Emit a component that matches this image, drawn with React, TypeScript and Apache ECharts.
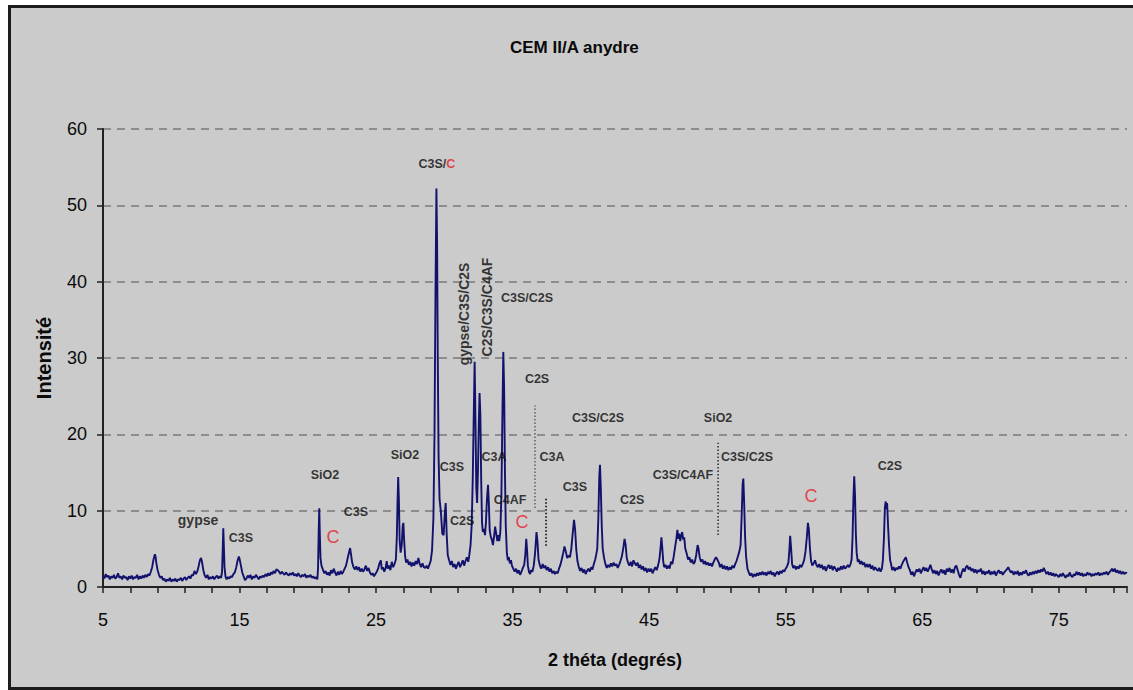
import React, { useEffect, useRef } from "react";
import * as echarts from "echarts";

// Diffractogram of CEM II/A (anhydrous), intensity vs 2θ, read in segments
const scan05to10: [number, number][] = [
  [5.0, 1.5], [5.1, 1.1], [5.2, 1.7], [5.3, 1.3], [5.4, 1.5], [5.5, 1.0], [5.6, 1.4], [5.7, 1.2], [5.8, 1.6], [5.9, 1.1],
  [6.0, 1.3], [6.1, 1.8], [6.2, 1.2], [6.3, 1.4], [6.4, 1.0], [6.5, 1.5], [6.6, 1.2], [6.7, 1.3], [6.8, 0.9], [6.9, 1.4],
  [7.0, 1.1], [7.1, 1.5], [7.2, 1.0], [7.3, 1.3], [7.4, 1.2], [7.5, 1.6], [7.6, 1.0], [7.7, 1.4], [7.8, 1.1], [7.9, 1.5],
  [8.0, 1.2], [8.1, 1.6], [8.2, 1.3], [8.3, 1.7], [8.4, 1.5], [8.5, 2.0], [8.6, 2.6], [8.7, 3.6], [8.8, 4.3], [8.85, 4.0],
  [8.9, 3.2], [9.0, 2.2], [9.1, 1.6], [9.2, 1.2], [9.3, 1.4], [9.4, 0.9], [9.5, 1.1], [9.6, 0.7], [9.7, 1.0], [9.8, 0.8],
  [9.9, 1.2], [10.0, 0.7],
];

const scan10to15: [number, number][] = [
  [10.1, 1.0], [10.2, 0.8], [10.3, 1.1], [10.4, 0.7], [10.5, 1.0], [10.6, 0.9], [10.7, 1.2], [10.8, 0.8], [10.9, 1.1],
  [11.0, 1.3], [11.1, 0.9], [11.2, 1.2], [11.3, 1.4], [11.4, 1.1], [11.5, 1.6], [11.6, 1.5], [11.7, 2.1], [11.8, 1.7],
  [11.9, 2.0], [12.0, 2.7], [12.1, 3.5], [12.18, 3.8], [12.25, 3.3], [12.35, 2.2], [12.45, 1.5], [12.55, 1.2],
  [12.65, 1.6], [12.75, 1.0], [12.85, 1.3], [12.95, 1.1], [13.05, 1.4], [13.15, 1.0], [13.25, 1.3], [13.35, 1.5],
  [13.45, 1.1], [13.55, 1.4], [13.65, 1.2], [13.72, 2.0], [13.77, 5.0], [13.81, 7.7], [13.85, 5.5], [13.9, 2.6],
  [13.97, 1.4], [14.05, 1.0], [14.15, 1.3], [14.25, 1.1], [14.35, 1.4], [14.45, 1.3], [14.55, 1.7], [14.65, 1.9],
  [14.75, 2.5], [14.85, 3.4], [14.95, 4.0], [15.0, 3.7],
];

const scan15to20: [number, number][] = [
  [15.1, 2.8], [15.2, 1.9], [15.3, 1.4], [15.4, 0.9], [15.5, 1.1], [15.6, 1.5], [15.7, 1.2], [15.8, 1.6], [15.9, 1.0],
  [16.0, 1.4], [16.1, 1.2], [16.2, 1.6], [16.3, 1.3], [16.4, 1.0], [16.5, 1.4], [16.6, 1.2], [16.7, 1.5], [16.8, 1.3],
  [16.9, 1.7], [17.0, 1.4], [17.1, 1.8], [17.2, 1.5], [17.3, 1.9], [17.4, 1.7], [17.5, 2.1], [17.6, 1.8], [17.7, 2.3],
  [17.8, 2.2], [17.9, 2.0], [18.0, 1.7], [18.1, 2.0], [18.2, 1.8], [18.3, 1.6], [18.4, 1.9], [18.5, 1.7], [18.6, 1.5],
  [18.7, 1.8], [18.8, 1.6], [18.9, 1.9], [19.0, 1.5], [19.1, 1.7], [19.2, 1.4], [19.3, 1.8], [19.4, 1.5], [19.5, 1.3],
  [19.6, 1.6], [19.7, 1.4], [19.8, 1.7], [19.9, 1.2], [20.0, 1.5],
];

const scan20to25: [number, number][] = [
  [20.1, 1.3], [20.2, 1.6], [20.3, 1.2], [20.4, 1.4], [20.5, 1.1], [20.6, 1.3], [20.7, 1.0], [20.75, 2.5], [20.8, 7.5],
  [20.84, 10.3], [20.88, 7.0], [20.93, 3.8], [21.0, 2.8], [21.1, 2.3], [21.2, 1.8], [21.3, 2.1], [21.4, 1.6], [21.5, 1.9],
  [21.6, 1.5], [21.7, 2.2], [21.8, 1.8], [21.9, 2.4], [22.0, 1.9], [22.1, 1.5], [22.2, 2.0], [22.3, 1.6], [22.4, 2.1],
  [22.5, 1.7], [22.6, 2.0], [22.7, 2.4], [22.8, 2.8], [22.9, 3.6], [23.0, 4.4], [23.1, 5.1], [23.17, 4.2], [23.25, 3.2],
  [23.35, 2.6], [23.45, 2.3], [23.55, 2.7], [23.65, 2.2], [23.75, 2.6], [23.85, 2.0], [23.95, 2.4], [24.05, 2.0],
  [24.15, 2.3], [24.25, 2.8], [24.35, 2.1], [24.45, 2.5], [24.55, 1.9], [24.65, 1.6], [24.75, 1.8], [24.85, 1.4],
  [24.95, 1.7],
];

const scan25to30: [number, number][] = [
  [25.05, 2.0], [25.15, 2.4], [25.25, 3.1], [25.35, 3.5], [25.42, 2.3], [25.5, 2.6], [25.6, 2.0], [25.7, 2.5],
  [25.78, 3.4], [25.85, 2.4], [25.95, 2.8], [26.05, 2.2], [26.15, 3.3], [26.25, 2.6], [26.35, 3.0], [26.45, 3.6],
  [26.52, 6.5], [26.57, 11.0], [26.62, 14.4], [26.67, 11.5], [26.73, 6.0], [26.8, 4.5], [26.88, 5.5], [26.95, 8.0],
  [27.0, 8.4], [27.06, 6.0], [27.13, 4.0], [27.2, 3.2], [27.3, 3.6], [27.4, 2.9], [27.5, 3.3], [27.6, 2.7], [27.7, 3.2],
  [27.8, 2.8], [27.9, 3.4], [28.0, 3.0], [28.1, 3.8], [28.2, 3.0], [28.3, 2.6], [28.4, 3.1], [28.5, 2.6], [28.6, 2.5],
  [28.7, 2.8], [28.8, 2.4], [28.9, 2.9], [29.0, 3.4], [29.1, 4.8], [29.2, 9.0], [29.28, 20.0], [29.35, 38.0],
  [29.42, 52.2], [29.47, 45.0], [29.52, 30.0], [29.58, 17.0], [29.65, 11.5], [29.75, 9.8], [29.85, 7.0], [29.95, 6.8],
  [30.03, 9.5], [30.1, 11.0], [30.17, 7.0], [30.25, 4.2],
];

const scan30to35: [number, number][] = [
  [30.35, 3.5], [30.45, 2.9], [30.55, 3.4], [30.65, 2.6], [30.75, 3.0], [30.85, 2.4], [30.95, 2.9], [31.05, 3.3],
  [31.15, 2.6], [31.25, 3.0], [31.35, 3.5], [31.45, 2.8], [31.55, 3.4], [31.65, 3.9], [31.75, 3.3], [31.83, 4.2],
  [31.92, 5.5], [32.0, 8.0], [32.08, 14.0], [32.15, 22.0], [32.22, 29.5], [32.28, 22.0], [32.34, 13.0], [32.4, 11.0],
  [32.46, 15.0], [32.52, 21.0], [32.58, 25.4], [32.64, 22.5], [32.7, 14.0], [32.76, 8.5], [32.82, 7.2], [32.9, 7.6],
  [32.98, 6.8], [33.05, 8.5], [33.12, 11.5], [33.2, 13.4], [33.26, 11.0], [33.32, 7.5], [33.4, 6.6], [33.48, 6.2],
  [33.56, 5.5], [33.64, 6.6], [33.72, 7.9], [33.8, 7.0], [33.88, 6.0], [33.95, 6.8], [34.02, 6.0], [34.1, 7.2],
  [34.18, 12.0], [34.25, 22.0], [34.32, 30.8], [34.38, 26.0], [34.44, 15.0], [34.5, 8.0], [34.58, 4.5], [34.65, 3.5],
  [34.72, 3.9], [34.8, 3.1], [34.88, 3.5], [34.95, 2.8],
];

const scan35to40: [number, number][] = [
  [35.05, 2.4], [35.15, 2.0], [35.25, 2.4], [35.35, 1.8], [35.45, 2.2], [35.55, 1.6], [35.65, 2.0], [35.75, 2.5],
  [35.85, 2.9], [35.93, 4.2], [36.0, 6.3], [36.06, 4.8], [36.12, 2.8], [36.2, 2.0], [36.28, 1.7], [36.36, 2.2],
  [36.45, 2.0], [36.55, 2.8], [36.65, 4.5], [36.75, 7.2], [36.82, 6.0], [36.9, 3.6], [37.0, 2.8], [37.1, 2.4],
  [37.2, 3.0], [37.3, 2.5], [37.4, 2.8], [37.5, 2.2], [37.6, 2.6], [37.7, 2.0], [37.8, 2.4], [37.9, 1.8], [38.0, 2.1],
  [38.1, 1.7], [38.2, 2.0], [38.3, 1.8], [38.4, 2.4], [38.5, 2.9], [38.6, 3.6], [38.7, 4.4], [38.8, 5.3], [38.9, 4.6],
  [39.0, 3.8], [39.1, 4.1], [39.2, 3.9], [39.3, 5.0], [39.4, 7.0], [39.5, 8.8], [39.58, 7.5], [39.66, 5.0],
  [39.75, 3.4], [39.85, 2.6], [39.95, 2.1],
];

const scan40to45: [number, number][] = [
  [40.05, 2.5], [40.15, 1.9], [40.25, 2.3], [40.35, 1.7], [40.45, 2.1], [40.55, 2.4], [40.65, 2.0], [40.75, 2.6],
  [40.85, 2.3], [40.95, 3.0], [41.05, 3.6], [41.12, 4.2], [41.2, 5.0], [41.28, 9.0], [41.35, 14.5], [41.4, 16.0],
  [41.46, 13.0], [41.53, 8.0], [41.6, 5.0], [41.7, 3.8], [41.8, 3.0], [41.9, 2.5], [42.0, 2.9], [42.1, 2.6],
  [42.2, 3.1], [42.3, 2.7], [42.4, 3.2], [42.5, 2.8], [42.6, 3.0], [42.7, 2.5], [42.8, 2.9], [42.9, 3.4], [43.0, 4.0],
  [43.1, 5.0], [43.2, 6.3], [43.28, 5.5], [43.36, 3.8], [43.45, 3.2], [43.55, 2.8], [43.65, 3.3], [43.75, 2.7],
  [43.85, 3.5], [43.95, 3.1], [44.05, 2.8], [44.15, 3.2], [44.25, 2.5], [44.35, 2.9], [44.45, 2.3], [44.55, 2.7],
  [44.65, 2.1], [44.75, 2.5], [44.85, 1.9], [44.95, 2.4],
];

const scan45to50: [number, number][] = [
  [45.05, 2.0], [45.15, 2.4], [45.25, 1.8], [45.35, 2.2], [45.45, 2.6], [45.55, 2.2], [45.65, 2.8], [45.75, 3.6],
  [45.83, 5.0], [45.9, 6.5], [45.96, 5.2], [46.03, 3.4], [46.1, 2.6], [46.2, 2.9], [46.3, 2.4], [46.4, 2.8],
  [46.5, 2.4], [46.6, 3.3], [46.7, 3.0], [46.8, 4.0], [46.9, 5.2], [47.0, 6.4], [47.07, 7.5], [47.13, 6.3],
  [47.2, 7.0], [47.28, 6.0], [47.35, 6.8], [47.42, 7.2], [47.5, 6.2], [47.57, 6.5], [47.65, 5.0], [47.75, 4.4],
  [47.85, 3.6], [47.95, 3.9], [48.05, 3.2], [48.15, 3.6], [48.25, 3.0], [48.35, 3.3], [48.45, 4.2], [48.55, 5.5],
  [48.62, 5.0], [48.7, 3.9], [48.8, 3.3], [48.9, 3.6], [49.0, 3.0], [49.1, 3.4], [49.2, 2.9], [49.3, 3.2], [49.4, 2.8],
  [49.5, 3.1], [49.6, 2.7], [49.7, 3.2], [49.8, 3.6], [49.9, 3.9], [50.0, 3.6],
];

const scan50to55: [number, number][] = [
  [50.1, 3.2], [50.2, 2.6], [50.3, 3.0], [50.4, 2.4], [50.5, 2.8], [50.6, 2.3], [50.7, 2.7], [50.8, 2.2], [50.9, 2.6],
  [51.0, 2.3], [51.1, 2.8], [51.2, 2.5], [51.3, 3.0], [51.4, 3.4], [51.5, 4.0], [51.6, 4.6], [51.7, 5.5], [51.78, 9.5],
  [51.85, 13.5], [51.9, 14.2], [51.96, 11.0], [52.03, 6.5], [52.1, 4.0], [52.2, 2.4], [52.3, 1.9], [52.4, 1.5],
  [52.5, 1.8], [52.6, 1.3], [52.7, 1.7], [52.8, 1.4], [52.9, 1.8], [53.0, 1.5], [53.1, 1.9], [53.2, 1.6], [53.3, 2.0],
  [53.4, 1.6], [53.5, 1.9], [53.6, 1.5], [53.7, 2.0], [53.8, 1.7], [53.9, 2.1], [54.0, 1.6], [54.1, 1.9], [54.2, 1.4],
  [54.3, 1.8], [54.4, 2.0], [54.5, 1.6], [54.6, 2.1], [54.7, 1.8], [54.8, 2.2], [54.9, 2.0], [55.0, 2.4],
];

const scan55to61: [number, number][] = [
  [55.1, 2.7], [55.2, 3.2], [55.27, 4.8], [55.33, 6.7], [55.4, 5.0], [55.47, 3.0], [55.55, 2.5], [55.65, 2.8],
  [55.75, 2.3], [55.85, 2.7], [55.95, 2.4], [56.05, 2.9], [56.15, 2.6], [56.25, 3.0], [56.35, 3.5], [56.45, 4.6],
  [56.55, 6.5], [56.63, 8.4], [56.7, 7.5], [56.78, 5.0], [56.86, 3.4], [56.95, 2.8], [57.05, 3.1], [57.15, 3.5],
  [57.25, 2.9], [57.35, 2.6], [57.45, 3.0], [57.55, 2.5], [57.65, 2.9], [57.75, 2.3], [57.85, 2.7], [57.95, 2.1],
  [58.05, 2.6], [58.15, 2.9], [58.25, 2.4], [58.35, 2.8], [58.45, 2.2], [58.55, 2.7], [58.65, 2.4], [58.75, 2.0],
  [58.85, 2.5], [58.95, 2.2], [59.05, 2.7], [59.15, 2.3], [59.25, 2.8], [59.35, 2.4], [59.45, 2.6], [59.55, 2.9],
  [59.65, 2.6], [59.75, 3.0], [59.83, 3.6], [59.9, 6.5], [59.96, 11.5], [60.02, 14.5], [60.08, 12.0], [60.14, 7.0],
  [60.2, 4.5], [60.28, 3.3], [60.36, 3.6], [60.45, 3.0], [60.55, 3.4], [60.65, 2.9], [60.75, 3.2], [60.85, 2.6],
  [60.95, 3.0],
];

const scan61to65: [number, number][] = [
  [61.05, 2.6], [61.15, 3.0], [61.25, 2.4], [61.35, 2.8], [61.45, 2.2], [61.55, 2.6], [61.65, 2.3], [61.75, 2.1],
  [61.85, 2.5], [61.95, 2.0], [62.05, 2.4], [62.12, 3.5], [62.2, 6.5], [62.27, 10.5], [62.33, 11.2], [62.38, 10.2],
  [62.43, 11.0], [62.5, 8.0], [62.57, 5.5], [62.65, 3.5], [62.72, 3.0], [62.8, 2.2], [62.9, 2.6], [63.0, 2.1],
  [63.1, 2.5], [63.2, 2.3], [63.3, 2.7], [63.4, 2.4], [63.5, 2.9], [63.6, 3.3], [63.7, 3.6], [63.8, 3.9], [63.9, 3.2],
  [64.0, 2.6], [64.1, 2.2], [64.2, 1.6], [64.3, 2.0], [64.4, 1.4], [64.5, 1.9], [64.6, 2.3], [64.7, 2.0], [64.8, 2.4],
  [64.9, 1.8], [65.0, 2.2],
];

const scan65to80: [number, number][] = [
  [65.1, 2.6], [65.2, 2.1], [65.3, 2.5], [65.4, 2.0], [65.5, 2.4], [65.6, 2.9], [65.7, 2.3], [65.8, 1.8], [65.9, 2.2],
  [66.0, 1.7], [66.1, 2.1], [66.2, 1.5], [66.3, 2.0], [66.4, 2.3], [66.5, 1.8], [66.6, 2.2], [66.7, 1.6], [66.8, 2.4],
  [66.9, 2.0], [67.0, 2.5], [67.1, 1.9], [67.2, 2.3], [67.3, 1.8], [67.4, 2.6], [67.5, 2.8], [67.6, 2.2], [67.7, 1.6],
  [67.8, 1.2], [67.9, 1.9], [68.0, 2.4], [68.1, 2.0], [68.2, 2.6], [68.3, 2.8], [68.4, 2.3], [68.5, 2.6], [68.6, 2.1],
  [68.7, 2.4], [68.8, 1.9], [68.9, 2.3], [69.0, 1.8], [69.1, 2.2], [69.2, 2.0], [69.3, 2.4], [69.4, 1.7], [69.5, 2.1],
  [69.6, 1.6], [69.7, 2.0], [69.8, 1.8], [69.9, 2.2], [70.0, 1.6], [70.1, 2.0], [70.2, 1.7], [70.3, 2.1], [70.4, 1.5],
  [70.5, 1.9], [70.6, 2.2], [70.7, 1.8], [70.8, 2.0], [70.9, 1.6], [71.0, 1.9], [71.1, 2.1], [71.2, 2.3], [71.3, 2.6],
  [71.4, 2.2], [71.5, 1.9], [71.6, 2.1], [71.7, 1.6], [71.8, 2.0], [71.9, 1.7], [72.0, 2.1], [72.1, 1.5], [72.2, 1.9],
  [72.3, 1.6], [72.4, 2.0], [72.5, 1.8], [72.6, 2.2], [72.7, 1.7], [72.8, 1.5], [72.9, 1.9], [73.0, 1.6], [73.1, 2.0],
  [73.2, 1.7], [73.3, 2.1], [73.4, 1.8], [73.5, 2.2], [73.6, 1.9], [73.7, 2.3], [73.8, 2.0], [73.9, 2.5], [74.0, 2.1],
  [74.1, 1.7], [74.2, 2.0], [74.3, 1.6], [74.4, 1.9], [74.5, 1.5], [74.6, 1.8], [74.7, 1.4], [74.8, 1.7], [74.9, 1.5],
  [75.0, 1.3], [75.1, 1.7], [75.2, 1.4], [75.3, 1.8], [75.4, 1.5], [75.5, 1.2], [75.6, 1.6], [75.7, 1.4], [75.8, 1.9],
  [75.9, 1.5], [76.0, 1.3], [76.1, 1.7], [76.2, 1.5], [76.3, 2.0], [76.4, 1.6], [76.5, 1.9], [76.6, 1.5], [76.7, 1.8],
  [76.8, 1.4], [76.9, 1.7], [77.0, 1.5], [77.1, 1.9], [77.2, 1.6], [77.3, 1.8], [77.4, 1.4], [77.5, 1.7], [77.6, 1.5],
  [77.7, 1.8], [77.8, 1.6], [77.9, 1.9], [78.0, 1.5], [78.1, 1.8], [78.2, 1.6], [78.3, 1.9], [78.4, 1.7], [78.5, 2.0],
  [78.6, 1.6], [78.7, 1.9], [78.8, 2.1], [78.9, 2.4], [79.0, 2.0], [79.1, 2.4], [79.2, 1.9], [79.3, 2.2], [79.4, 1.8],
  [79.5, 2.1], [79.6, 1.7], [79.7, 2.0], [79.8, 1.7], [79.9, 1.9], [80.0, 1.8],
];

// Phase identifications: [2θ, intensity, label]
const phaseLabels: [number, number, string][] = [
  [15.1, 6.4, "C3S"],
  [21.26, 14.67, "SiO2"],
  [23.53, 9.83, "C3S"],
  [27.12, 17.3, "SiO2"],
  [30.56, 15.7, "C3S"],
  [31.3, 8.6, "C2S"],
  [33.64, 17.0, "C3A"],
  [34.81, 11.4, "C4AF"],
  [36.06, 37.86, "C3S/C2S"],
  [36.79, 27.25, "C2S"],
  [37.88, 17.0, "C3A"],
  [39.57, 13.1, "C3S"],
  [41.26, 22.1, "C3S/C2S"],
  [43.75, 11.4, "C2S"],
  [47.48, 14.7, "C3S/C4AF"],
  [50.05, 22.1, "SiO2"],
  [52.17, 17.0, "C3S/C2S"],
  [62.64, 15.85, "C2S"],
];
const gypseLabel: [number, number, string] = [11.96, 8.78, "gypse"];
const stackedLabels: [number, number, string][] = [
  [31.44, 35.77, "gypse/C3S/C2S"],
  [33.13, 36.68, "C2S/C3S/C4AF"],
];
// Calcite reflections
const calciteMarks: [number, number][] = [
  [21.85, 6.55],
  [35.69, 8.5],
  [56.86, 11.9],
];
const mainPeakLabel: [number, number] = [29.46, 55.4];

// Dotted guide lines: [2θ, from, to, width]
const guideLines: [number, number, number, number][] = [
  [36.64, 10.35, 23.8, 1],
  [37.45, 5.4, 11.7, 2],
  [50.05, 6.8, 18.9, 1.5],
];

const xTickLabels = ["5", "15", "25", "35", "45", "55", "65", "75"];
const yTickValues = [0, 10, 20, 30, 40, 50, 60];

const FONT = "'Liberation Sans', Arial, Helvetica, sans-serif";
const INK = "#0a0a0a";

export default function App() {
  const ref = useRef<HTMLDivElement>(null);

  useEffect(() => {
    if (!ref.current) return;
    const chart = echarts.init(ref.current, null, { renderer: "svg" });
    const scan = [
      ...scan05to10, ...scan10to15, ...scan15to20, ...scan20to25, ...scan25to30, ...scan30to35,
      ...scan35to40, ...scan40to45, ...scan45to50, ...scan50to55, ...scan55to61, ...scan61to65, ...scan65to80,
    ];
    const labelBase = {
      show: true,
      position: "inside" as const,
      formatter: "{b}",
      fontFamily: FONT,
      fontWeight: "bold" as const,
      fontSize: 12.5,
      color: INK,
    };
    const hidden = { color: "transparent" };

    chart.setOption({
      animation: false,
      backgroundColor: "transparent",
      title: {
        text: "CEM II/A anydre",
        left: 505,
        top: 34,
        textStyle: { fontFamily: FONT, fontSize: 17, fontWeight: "bold", color: INK },
      },
      grid: { left: 103, right: 6, top: 129, bottom: 103 },
      xAxis: [
        {
          // data axis (2θ in degrees)
          type: "value",
          min: 5,
          max: 80,
          show: false,
        },
        {
          // tick axis, counted in degrees above 5°
          type: "value",
          min: 0,
          max: 75,
          interval: 2,
          position: "bottom",
          name: "2 théta (degrés)",
          nameLocation: "middle",
          nameGap: 64,
          nameTextStyle: { fontFamily: FONT, fontSize: 18, fontWeight: "bold", color: INK },
          axisLine: { show: true, onZero: false, lineStyle: { color: "#222", width: 2 } },
          axisTick: { show: true, length: 6, lineStyle: { color: "#222", width: 1.5 } },
          splitLine: { show: false },
          axisLabel: {
            margin: 24,
            fontFamily: FONT,
            fontSize: 18,
            color: INK,
            formatter: (v: number) => (v % 10 === 0 ? xTickLabels[v / 10] ?? "" : ""),
          },
        },
      ],
      yAxis: {
        type: "value",
        min: yTickValues[0],
        max: yTickValues[yTickValues.length - 1],
        interval: 10,
        name: "Intensité",
        nameLocation: "middle",
        nameGap: 49,
        nameTextStyle: { fontFamily: FONT, fontSize: 20, fontWeight: "bold", color: INK },
        axisLine: { show: true, lineStyle: { color: "#222", width: 2 } },
        axisTick: { show: true, length: 6, lineStyle: { color: "#222", width: 1.5 } },
        axisLabel: { margin: 16, fontFamily: FONT, fontSize: 18, color: INK },
        splitLine: { show: true, lineStyle: { color: "#7a7a7a", width: 1.5, type: [8, 6] } },
      },
      series: [
        {
          type: "line",
          name: "CEM II/A anydre",
          xAxisIndex: 0,
          data: scan,
          symbol: "none",
          lineStyle: { color: "#12126c", width: 1.9 },
          z: 3,
          silent: true,
        },
        ...guideLines.map(([x, y0, y1, w]) => ({
          type: "line",
          xAxisIndex: 0,
          data: [[x, y0], [x, y1]],
          symbol: "none",
          lineStyle: { color: "#2a2a2a", width: w, type: [1.5, 2] },
          z: 4,
          silent: true,
        })),
        {
          type: "scatter",
          xAxisIndex: 0,
          symbolSize: 1,
          itemStyle: hidden,
          silent: true,
          z: 6,
          label: labelBase,
          data: phaseLabels.map(([x, y, t]) => ({ value: [x, y], name: t })),
        },
        {
          type: "scatter",
          xAxisIndex: 0,
          symbolSize: 1,
          itemStyle: hidden,
          silent: true,
          z: 6,
          label: { ...labelBase, fontSize: 14 },
          data: [{ value: [gypseLabel[0], gypseLabel[1]], name: gypseLabel[2] }],
        },
        {
          type: "scatter",
          xAxisIndex: 0,
          symbolSize: 1,
          itemStyle: hidden,
          silent: true,
          z: 6,
          label: { ...labelBase, fontSize: 14, rotate: 90 },
          data: stackedLabels.map(([x, y, t]) => ({ value: [x, y], name: t })),
        },
        {
          type: "scatter",
          xAxisIndex: 0,
          symbolSize: 1,
          itemStyle: hidden,
          silent: true,
          z: 6,
          label: { ...labelBase, fontSize: 18, fontWeight: "normal", color: "#e4212a", formatter: "C" },
          data: calciteMarks.map(([x, y]) => ({ value: [x, y], name: "C" })),
        },
        {
          type: "scatter",
          xAxisIndex: 0,
          symbolSize: 1,
          itemStyle: hidden,
          silent: true,
          z: 6,
          label: {
            show: true,
            position: "inside",
            formatter: "{k|C3S/}{r|C}",
            rich: {
              k: { fontFamily: FONT, fontSize: 12.5, fontWeight: "bold", color: INK },
              r: { fontFamily: FONT, fontSize: 12.5, fontWeight: "bold", color: "#e4212a" },
            },
          },
          data: [{ value: mainPeakLabel, name: "C3S/C" }],
        },
      ],
    });
    return () => chart.dispose();
  }, []);

  return (
    <div style={{ position: "fixed", left: 0, top: 0, width: 1133, height: 690, background: "#ffffff", overflow: "hidden" }}>
      <div
        style={{
          position: "absolute",
          left: 8,
          top: 5,
          width: 1140,
          height: 685,
          boxSizing: "border-box",
          border: "3px solid #1c1c1c",
          background: "#cbcbcb",
        }}
      />
      <div ref={ref} style={{ position: "absolute", left: 0, top: 0, width: 1133, height: 690 }} />
    </div>
  );
}
